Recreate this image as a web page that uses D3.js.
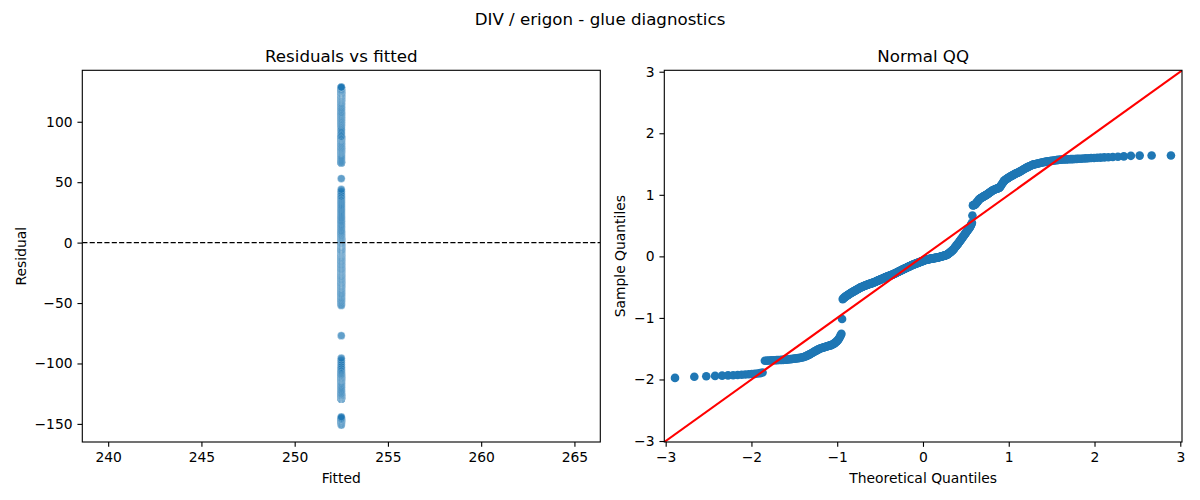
<!DOCTYPE html>
<html><head><meta charset="utf-8">
<script src="https://cdn.jsdelivr.net/npm/d3@7"></script>
<style>
body{margin:0;background:#fff}
svg{display:block}
text{font-family:"DejaVu Sans",sans-serif;fill:#000}
</style>
</head><body>
<svg id="chart" width="1200" height="500"></svg>
<script>
// ---------------- data ----------------
const FITTED = 252.5;
// residuals (sorted)
const residuals = [
-151,-149.6,-149,-148.5,-148.2,-147.8,-147.6,-147.3,-147,-146.7,-146.5,-146.2,-146,-145.5,-145,-144.2,
-129.5,-129.3,-129.2,-129,-128.9,-128.8,-128.7,-128.6,-128.5,-128.4,-128.3,-128.1,-128,-127.8,
-127.6,-127.4,-127.2,-127,-126.8,-126.6,-126.4,-126.2,-126,-125.7,-125.4,-125.1,-124.7,
-124.2,-123.6,-123,-122.4,-121.8,-121.1,-120.4,-119.7,-119,-118.3,-117.6,-117,-116.4,-115.8,-115.2,-114.6,-114,
-113.7,-113.4,-113.1,-112.8,-112.5,-112.2,-111.9,-111.6,-111.3,-111,-110.7,-110.4,-110.1,-109.8,-109.4,-109,-108.5,-108,
-107.3,-106.6,-105.9,-105.1,-104.2,-103.2,-102,-100.6,-99,-97.3,-95.6,
-77,
-52,-51.2,-50.5,-49.8,-49.2,-48.6,-48,-47.5,-47,-46.5,-46,-45.5,-45,-44.5,-44,-43.6,
-43.2,-42.8,-42.4,-42,-41.6,-41.2,-40.8,-40.4,-40,-39.6,-39.2,-38.8,-38.4,-38,-37.5,
-37.2,-36.9,-36.7,-36.4,-36.1,-35.9,-35.6,-35.3,-35.1,-34.8,-34.5,-34.3,-34,-33.8,-33.6,-33.4,-33.1,-32.9,
-32.7,-32.5,-32.3,-32.1,-31.9,-31.6,-31.4,
-31.1,-30.9,-30.6,-30.4,-30.1,-29.9,-29.6,-29.3,-29.1,-28.8,-28.5,-28.3,-28,-27.8,-27.5,-27.2,-27,-26.7,-26.5,-26.2,-26,-25.7,-25.5,-25.2,-25,-24.7,-24.5,-24.2,-24,-23.7,
-23.5,-23.3,-23.1,-22.9,-22.7,-22.5,-22.3,-22.1,-21.9,-21.7,-21.4,-21.2,-21,-20.7,
-20.4,-20.2,-19.9,-19.6,-19.4,-19.1,-18.8,-18.6,-18.3,-18,-17.8,-17.5,-17.2,-16.9,-16.7,-16.4,-16.1,-15.9,-15.6,-15.3,-15,-14.8,-14.5,
-14.3,-14,-13.8,-13.5,-13.3,-13,-12.8,-12.5,-12.3,-12,-11.8,-11.5,-11.3,-11,-10.8,-10.5,-10.3,-10,-9.8,-9.5,-9.3,-9.1,-8.9,-8.6,-8.4,
-8.2,-8,-7.8,-7.6,-7.4,-7.2,-7,-6.8,-6.6,-6.4,-6.2,-6,-5.8,-5.6,-5.4,-5.2,-5,-4.8,-4.6,-4.4,-4.2,-4,-3.8,-3.6,-3.4,-3.2,-3,-2.8,-2.6,-2.5,-2.3,
-2.2,-2.1,-2,-1.9,-1.8,-1.7,-1.6,-1.5,-1.4,-1.3,-1.2,-1.1,-1,-0.9,-0.8,-0.7,-0.6,-0.5,-0.4,-0.3,-0.25,-0.2,-0.1,-0.05,0,
0.1,0.3,0.4,0.6,0.7,0.9,1,1.2,1.3,1.5,1.6,1.8,1.9,2.1,2.2,2.4,2.5,2.7,2.8,3,3.2,3.4,3.6,3.8,
4.2,4.6,5,5.4,5.8,6.2,6.7,7.1,7.6,8,8.5,9,9.5,10,
10.7,11.4,12.1,12.8,13.5,14.2,14.9,15.6,16.3,17,17.7,18.4,19.2,20,20.7,
21.5,22.3,23.1,23.9,24.7,25.5,26.3,27.1,27.9,28.7,29.5,30.3,31.1,32,32.9,
33.7,34.5,35.3,36.1,36.9,37.7,38.5,
39.8,41,42.4,44,53,
65.8,66,66.2,66.4,66.6,
67.3,68,68.8,69.6,70.4,71.2,72,72.8,73.5,74.2,
74.6,75,75.4,75.8,76.2,76.6,77,77.4,77.8,78.1,78.5,78.8,
79.3,79.8,80.3,80.8,81.3,81.8,82.3,82.8,83.3,83.8,84.4,84.9,
85.2,85.5,85.8,86.1,86.4,86.7,87,87.2,87.5,87.8,88,
89.1,90.3,91.5,92.7,93.9,95,96.1,97.2,
97.8,98.4,99,99.6,100.1,100.6,101.2,101.7,
102.2,102.7,103.2,103.7,104.2,104.7,105.2,105.7,106.1,106.6,107,107.5,107.9,
108.5,109.1,109.7,110.3,110.9,111.5,112.1,112.7,113.3,113.9,114.4,114.9,115.4,115.9,116.5,117,
117.3,117.6,117.9,118.2,118.5,118.8,119.1,119.4,119.7,120,120.3,120.5,120.8,121.1,121.3,121.6,
121.8,122,122.3,122.5,122.7,123,123.2,
123.3,123.4,123.5,123.6,123.7,123.8,123.9,124,124.1,124.3,124.4,124.5,124.7,
124.9,125.1,125.3,125.4,125.6,125.8,
126.1,126.4,126.7,127,127.4,
128.1,128.4,128.5,128.6
];
const fittedValues = residuals.map(() => FITTED);

const leftXTicks = [240, 245, 250, 255, 260, 265];
const leftYTicks = [-150, -100, -50, 0, 50, 100];
const qqTicks = [-3, -2, -1, 0, 1, 2, 3];
const qqXLimits = [-3.016, 3.02];
const qqYLimits = [-3.016, 3.023];

// ---------------- helpers ----------------
// inverse standard normal CDF (Acklam)
function normInv(p) {
  const a = [-3.969683028665376e+01, 2.209460984245205e+02, -2.759285104469687e+02, 1.383577518672690e+02, -3.066479806614716e+01, 2.506628277459239e+00];
  const b = [-5.447609879822406e+01, 1.615858368580409e+02, -1.556989798598866e+02, 6.680131188771972e+01, -1.328068155288572e+01];
  const c = [-7.784894002430293e-03, -3.223964580411365e-01, -2.400758277161838e+00, -2.549732539343734e+00, 4.374664141464968e+00, 2.938163982698783e+00];
  const d = [7.784695709041462e-03, 3.224671290700398e-01, 2.445134137142996e+00, 3.754408661907416e+00];
  const pl = 0.02425, ph = 1 - pl;
  let q, r;
  if (p < pl) { q = Math.sqrt(-2 * Math.log(p));
    return (((((c[0]*q+c[1])*q+c[2])*q+c[3])*q+c[4])*q+c[5]) / ((((d[0]*q+d[1])*q+d[2])*q+d[3])*q+1); }
  if (p > ph) { q = Math.sqrt(-2 * Math.log(1 - p));
    return -(((((c[0]*q+c[1])*q+c[2])*q+c[3])*q+c[4])*q+c[5]) / ((((d[0]*q+d[1])*q+d[2])*q+d[3])*q+1); }
  q = p - 0.5; r = q * q;
  return (((((a[0]*r+a[1])*r+a[2])*r+a[3])*r+a[4])*r+a[5])*q / (((((b[0]*r+b[1])*r+b[2])*r+b[3])*r+b[4])*r+1);
}

const svg = d3.select('#chart');
const PT = 100 / 72;
const TICK_LEN = 3.5 * PT, TICK_PAD = 3.5 * PT, LW = 0.8 * PT;
const FS = 10 * PT, TFS = 12 * PT;

const L = {x0: 82.3, x1: 600.3, y0: 70.3, y1: 442};
const R = {x0: 664.3, x1: 1182, y0: 70.3, y1: 442};

function styleAxis(g) {
  g.selectAll('path.domain').remove();
  g.selectAll('line').attr('stroke', '#000').attr('stroke-width', LW);
  g.selectAll('text').attr('font-size', FS).attr('font-family', '"DejaVu Sans",sans-serif').attr('fill', '#000');
}
const fmt = d3.format('');

// ---------------- left: residuals vs fitted ----------------
const half = 0.05 * FITTED;
const xlo = FITTED - half, xhi = FITTED + half, xpad = (xhi - xlo) * 0.05;
const xL = d3.scaleLinear().domain([xlo - xpad, xhi + xpad]).range([L.x0, L.x1]);
const ext = d3.extent(residuals), ypad = (ext[1] - ext[0]) * 0.05;
const yL = d3.scaleLinear().domain([ext[0] - ypad, ext[1] + ypad]).range([L.y1, L.y0]);

svg.append('defs').call(dd => {
  dd.append('clipPath').attr('id', 'clipL').append('rect').attr('x', L.x0).attr('y', L.y0).attr('width', L.x1 - L.x0).attr('height', L.y1 - L.y0);
  dd.append('clipPath').attr('id', 'clipR').append('rect').attr('x', R.x0).attr('y', R.y0).attr('width', R.x1 - R.x0).attr('height', R.y1 - R.y0);
});

const gL = svg.append('g').attr('clip-path', 'url(#clipL)');
gL.selectAll('circle').data(residuals).join('circle')
  .attr('cx', (d, i) => xL(fittedValues[i])).attr('cy', d => yL(d)).attr('r', 3.9)
  .attr('fill', '#1f77b4').attr('opacity', 0.7)
  .attr('stroke', '#fff').attr('stroke-width', 0.35);
gL.append('line').attr('x1', L.x0).attr('x2', L.x1).attr('y1', yL(0)).attr('y2', yL(0))
  .attr('stroke', '#000').attr('stroke-width', 1 * PT).attr('stroke-dasharray', `${3.7*PT},${1.6*PT}`);

svg.append('g').attr('transform', `translate(0,${L.y1})`)
  .call(d3.axisBottom(xL).tickValues(leftXTicks).tickFormat(fmt).tickSize(TICK_LEN).tickPadding(TICK_PAD)).call(styleAxis);
svg.append('g').attr('transform', `translate(${L.x0},0)`)
  .call(d3.axisLeft(yL).tickValues(leftYTicks).tickFormat(d3.format('')).tickSize(TICK_LEN).tickPadding(TICK_PAD)).call(styleAxis);
svg.append('rect').attr('x', L.x0).attr('y', L.y0).attr('width', L.x1 - L.x0).attr('height', L.y1 - L.y0)
  .attr('fill', 'none').attr('stroke', '#000').attr('stroke-width', LW);

svg.append('text').attr('x', (L.x0 + L.x1) / 2).attr('y', 62.3).attr('text-anchor', 'middle').attr('font-size', TFS).text('Residuals vs fitted');
svg.append('text').attr('x', (L.x0 + L.x1) / 2).attr('y', 483).attr('text-anchor', 'middle').attr('font-size', FS).text('Fitted');
svg.append('text').attr('transform', `translate(25.5,${(L.y0 + L.y1) / 2}) rotate(-90)`).attr('text-anchor', 'middle').attr('font-size', FS).text('Residual');

// ---------------- right: normal QQ ----------------
const n = residuals.length;
const mean = d3.mean(residuals);
const sd = Math.sqrt(d3.mean(residuals, r => (r - mean) * (r - mean)));
const sample = residuals.slice().sort((a, b) => a - b).map(r => (r - mean) / sd);
const qq = sample.map((s, i) => ({t: normInv((i + 1) / (n + 1)), s}));

const xR = d3.scaleLinear().domain(qqXLimits).range([R.x0, R.x1]);
const yR = d3.scaleLinear().domain(qqYLimits).range([R.y1, R.y0]);

const gR = svg.append('g').attr('clip-path', 'url(#clipR)');
gR.selectAll('circle').data(qq).join('circle')
  .attr('cx', d => xR(d.t)).attr('cy', d => yR(d.s)).attr('r', 4.3)
  .attr('fill', '#1f77b4');
const lo = Math.min(qqXLimits[0], qqYLimits[0]), hi = Math.max(qqXLimits[1], qqYLimits[1]);
gR.append('line').attr('x1', xR(lo)).attr('y1', yR(lo)).attr('x2', xR(hi)).attr('y2', yR(hi))
  .attr('stroke', '#ff0000').attr('stroke-width', 1.5 * PT);

svg.append('g').attr('transform', `translate(0,${R.y1})`)
  .call(d3.axisBottom(xR).tickValues(qqTicks).tickFormat(d3.format('')).tickSize(TICK_LEN).tickPadding(TICK_PAD)).call(styleAxis);
svg.append('g').attr('transform', `translate(${R.x0},0)`)
  .call(d3.axisLeft(yR).tickValues(qqTicks).tickFormat(d3.format('')).tickSize(TICK_LEN).tickPadding(TICK_PAD)).call(styleAxis);
svg.append('rect').attr('x', R.x0).attr('y', R.y0).attr('width', R.x1 - R.x0).attr('height', R.y1 - R.y0)
  .attr('fill', 'none').attr('stroke', '#000').attr('stroke-width', LW);

svg.append('text').attr('x', (R.x0 + R.x1) / 2).attr('y', 62.3).attr('text-anchor', 'middle').attr('font-size', TFS).text('Normal QQ');
svg.append('text').attr('x', (R.x0 + R.x1) / 2).attr('y', 483).attr('text-anchor', 'middle').attr('font-size', FS).text('Theoretical Quantiles');
svg.append('text').attr('transform', `translate(625,${(R.y0 + R.y1) / 2}) rotate(-90)`).attr('text-anchor', 'middle').attr('font-size', FS).text('Sample Quantiles');

// ---------------- suptitle ----------------
svg.append('text').attr('x', 600).attr('y', 25).attr('text-anchor', 'middle').attr('font-size', TFS).text('DIV / erigon - glue diagnostics');
</script>
</body></html>
